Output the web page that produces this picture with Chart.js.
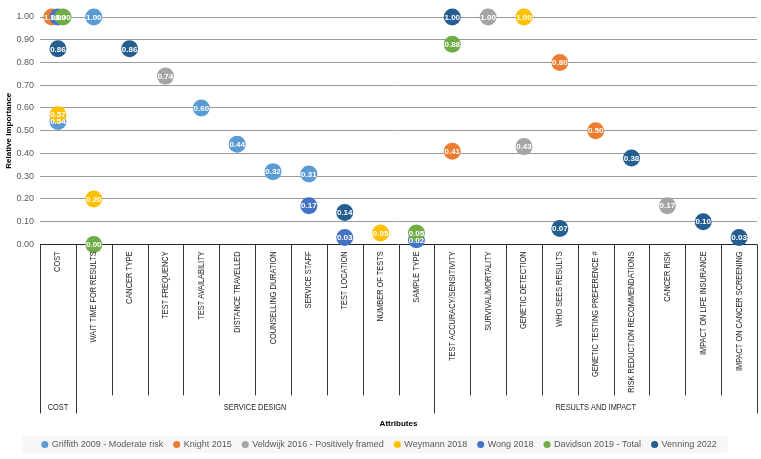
<!DOCTYPE html>
<html lang="en">
<head>
<meta charset="UTF-8">
<title>Relative Importance of Attributes</title>
<style>
  html, body { margin: 0; padding: 0; background: #fff; }
  #chart-container { width: 761px; height: 459px; }
</style>
</head>
<body>
<div id="chart-container"><canvas id="importance-chart"></canvas></div>
<script src="https://cdn.jsdelivr.net/npm/chart.js"></script>
<script>
const categories = ['COST', 'WAIT TIME FOR RESULTS', 'CANCER TYPE', 'TEST FREQUENCY', 'TEST AVAILABILITY',
  'DISTANCE TRAVELLED', 'COUNSELLING DURATION', 'SERVICE STAFF', 'TEST LOCATION', 'NUMBER OF TESTS',
  'SAMPLE TYPE', 'TEST ACCURACY/SENSITIVITY', 'SURVIVAL/MORTALITY', 'GENETIC DETECTION', 'WHO SEES RESULTS',
  'GENETIC TESTING PREFERENCE #', 'RISK REDUCTION RECOMMENDATIONS', 'CANCER RISK', 'IMPACT ON LIFE INSURANCE',
  'IMPACT ON CANCER SCREENING'];

const groupNames = ['COST', 'SERVICE DESIGN', 'RESULTS AND IMPACT'];
const groupFirst = [0, 1, 11];
const groupLast = [0, 10, 19];

const seriesNames = ['Griffith 2009 - Moderate risk', 'Knight 2015', 'Veldwijk 2016 - Positively framed',
  'Weymann 2018', 'Wong 2018', 'Davidson 2019 - Total', 'Venning 2022'];

//                 0     1     2     3     4     5     6     7     8     9     10    11    12    13    14    15    16    17    18    19
const griffith = [0.54, 1.00, null, null, 0.60, 0.44, 0.32, 0.31, null, null, null, null, null, null, null, null, null, null, null, null];
const knight   = [1.00, null, null, null, null, null, null, null, null, null, null, 0.41, null, null, 0.80, 0.50, null, null, null, null];
const veldwijk = [null, null, null, 0.74, null, null, null, null, null, null, null, null, 1.00, 0.43, null, null, null, 0.17, null, null];
const weymann  = [0.57, 0.20, null, null, null, null, null, null, null, 0.05, null, null, null, 1.00, null, null, null, null, null, null];
const wong     = [1.00, null, null, null, null, null, null, 0.17, 0.03, null, 0.02, null, null, null, null, null, null, null, null, null];
const davidson = [1.00, 0.00, null, null, null, null, null, null, null, null, 0.05, 0.88, null, null, null, null, null, null, null, null];
const venning  = [0.86, null, 0.86, null, null, null, null, null, 0.14, null, null, 1.00, null, null, 0.07, null, 0.38, null, 0.10, 0.03];

const seriesValues = [griffith, knight, veldwijk, weymann, wong, davidson, venning];
const seriesColors = ['#5B9BD5', '#ED7D31', '#A5A5A5', '#FFC000', '#4472C4', '#70AD47', '#255E91'];
// nudge the three 1.00 markers in the COST column apart, like the original
const costNudge = [0, -0.17, 0, 0, 0, 0.14, 0];

const FONT = "'Liberation Sans', Arial, sans-serif";
Chart.defaults.font.family = FONT;

const datasets = seriesValues.map((vals, s) => ({
  label: seriesNames[s],
  data: vals.map((v, i) => v === null ? null : { x: i + (i === 0 ? costNudge[s] : 0), y: v }).filter(p => p),
  backgroundColor: seriesColors[s],
  borderWidth: 0,
  pointRadius: 8.5,
  pointHoverRadius: 8.5,
  pointStyle: 'circle',
  order: seriesValues.length - s,
  clip: false
}));

// white value labels inside the bubbles
const bubbleLabels = {
  id: 'bubbleLabels',
  afterDatasetsDraw(chart) {
    const ctx = chart.ctx;
    ctx.save();
    ctx.font = 'bold 8px ' + FONT;
    ctx.fillStyle = '#fff';
    ctx.textAlign = 'center';
    ctx.textBaseline = 'middle';
    chart.data.datasets.forEach((ds, i) => {
      chart.getDatasetMeta(i).data.forEach((pt, j) => {
        ctx.fillText(ds.data[j].y.toFixed(2), pt.x, pt.y + 0.5);
      });
    });
    ctx.restore();
  }
};

// table style category axis with grouped labels underneath
const attributeAxis = {
  id: 'attributeAxis',
  beforeDraw(chart) {
    const boxes = chart.legend && chart.legend.legendHitBoxes;
    if (!boxes || !boxes.length) return;
    const left = Math.min(...boxes.map(b => b.left));
    const right = Math.max(...boxes.map(b => b.left + b.width));
    const mid = boxes[0].top + boxes[0].height / 2;
    chart.ctx.save();
    chart.ctx.fillStyle = '#f7f7f7';
    chart.ctx.fillRect(left - 20, mid - 8.5, right - left + 31, 17);
    chart.ctx.restore();
  },
  afterDraw(chart) {
    const { ctx, chartArea, scales: { x } } = chart;
    const top = chartArea.bottom;
    ctx.save();
    ctx.strokeStyle = '#333';
    ctx.lineWidth = 1;
    for (let i = 0; i <= categories.length; i++) {
      const px = Math.round(x.getPixelForValue(i - 0.5)) + 0.5;
      const edge = groupFirst.includes(i) || i === categories.length;
      ctx.beginPath();
      ctx.moveTo(px, top);
      ctx.lineTo(px, top + (edge ? 169 : 151));
      ctx.stroke();
    }
    ctx.fillStyle = '#262626';
    ctx.font = '9px ' + FONT;
    ctx.textAlign = 'right';
    ctx.textBaseline = 'middle';
    categories.forEach((c, i) => {
      ctx.save();
      ctx.translate(x.getPixelForValue(i), top + 7);
      ctx.rotate(-Math.PI / 2);
      ctx.scale(0.82, 1);
      ctx.fillText(c, 0, 0);
      ctx.restore();
    });
    ctx.textAlign = 'center';
    groupNames.forEach((g, k) => {
      const cx = (x.getPixelForValue(groupFirst[k] - 0.5) + x.getPixelForValue(groupLast[k] + 0.5)) / 2;
      ctx.save();
      ctx.translate(cx, top + 163);
      ctx.scale(0.82, 1);
      ctx.fillText(g, 0, 0);
      ctx.restore();
    });
    ctx.restore();
  }
};

const ctx = document.getElementById('importance-chart').getContext('2d');
const importanceChart = new Chart(ctx, {
  type: 'scatter',
  data: { datasets: datasets },
  plugins: [attributeAxis, bubbleLabels],
  options: {
    responsive: true,
    maintainAspectRatio: false,
    animation: false,
    layout: { autoPadding: false, padding: { top: 17, right: 4, left: 2, bottom: 0 } },
    scales: {
      x: {
        type: 'linear',
        min: -0.5,
        max: 19.5,
        ticks: { display: false },
        grid: { display: false, drawTicks: false },
        border: { display: false },
        title: {
          display: true,
          text: 'Attributes',
          color: '#000',
          font: { size: 8, weight: 'bold' },
          padding: { top: 175, bottom: 0 }
        }
      },
      y: {
        min: 0,
        max: 1,
        ticks: {
          stepSize: 0.1,
          color: '#595959',
          font: { size: 9 },
          padding: 6,
          callback: v => v.toFixed(2)
        },
        grid: {
          drawTicks: false,
          color: c => (c.tick && c.tick.value === 0) ? '#262626' : '#9a9a9a'
        },
        border: { display: false },
        title: {
          display: true,
          text: 'Relative Importance',
          color: '#000',
          font: { size: 8, weight: 'bold' },
          padding: { top: 2, bottom: 0 }
        },
        afterFit(scale) { scale.width = 38; }
      }
    },
    plugins: {
      legend: {
        position: 'bottom',
        labels: {
          usePointStyle: true,
          pointStyle: 'circle',
          boxWidth: 5,
          boxHeight: 5,
          padding: 11,
          color: '#595959',
          font: { size: 9 },
          sort: (a, b) => a.datasetIndex - b.datasetIndex
        }
      },
      tooltip: { enabled: false }
    }
  }
});
</script>
</body>
</html>
